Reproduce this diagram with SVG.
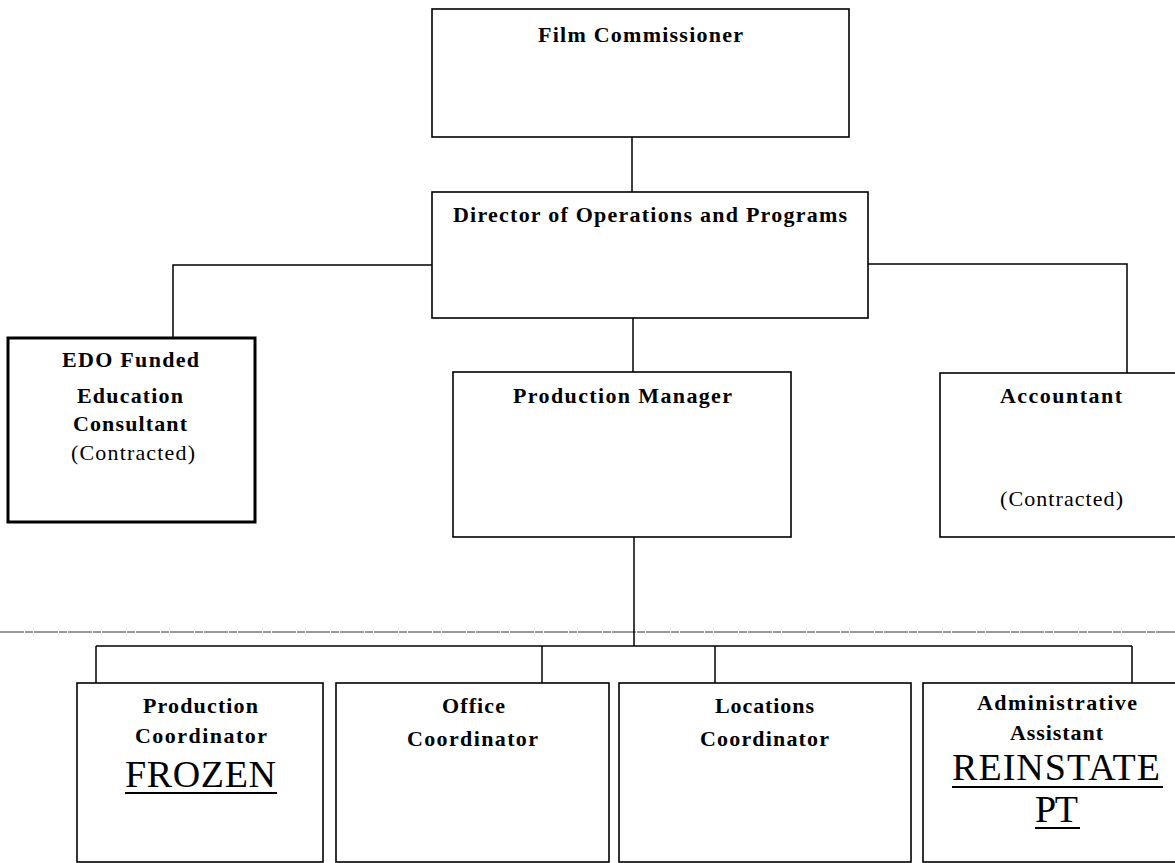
<svg xmlns="http://www.w3.org/2000/svg" width="1175" height="863" viewBox="0 0 1175 863">
<style>
.box{fill:#fff;stroke:#000;stroke-width:1.6}
.thick{stroke-width:3}
.ln{fill:none;stroke:#000;stroke-width:1.5}
.dash{fill:none;stroke:#333;stroke-width:1;stroke-dasharray:24 1 8 1}
.b{font-family:"Liberation Serif","Times New Roman",serif;font-weight:bold;font-size:22px;fill:#000;text-anchor:middle}
.r{font-family:"Liberation Serif","Times New Roman",serif;font-size:22px;fill:#000;text-anchor:middle}
.big{font-family:"Liberation Serif","Times New Roman",serif;font-size:38px;fill:#000;text-anchor:middle}
.ul{stroke:#000;stroke-width:2}
</style>
<rect width="1175" height="863" fill="#fff"/>
<g id="connectors">
<line class="dash" x1="0" y1="632" x2="1175" y2="632"/>
<line class="ln" x1="632" y1="137" x2="632" y2="192"/>
<polyline class="ln" points="432,265 173,265 173,338"/>
<polyline class="ln" points="868,264 1127,264 1127,373"/>
<line class="ln" x1="633" y1="318" x2="633" y2="372"/>
<line class="ln" x1="634" y1="537" x2="634" y2="646"/>
<line class="ln" x1="96" y1="646" x2="1132" y2="646"/>
<line class="ln" x1="96" y1="646" x2="96" y2="683"/>
<line class="ln" x1="542" y1="646" x2="542" y2="683"/>
<line class="ln" x1="715" y1="646" x2="715" y2="683"/>
<line class="ln" x1="1132" y1="646" x2="1132" y2="683"/>
</g>
<g id="film-commissioner">
<rect class="box" x="432" y="9" width="417" height="128"/>
<text class="b" x="640.5" y="42" textLength="205">Film Commissioner</text>
</g>
<g id="director">
<rect class="box" x="432" y="192" width="436" height="126"/>
<text class="b" x="650" y="222" textLength="394">Director of Operations and Programs</text>
</g>
<g id="edo-consultant">
<rect class="box thick" x="8" y="338" width="247" height="184"/>
<text class="b" x="130.5" y="367" textLength="137">EDO Funded</text>
<text class="b" x="130" y="403" textLength="106">Education</text>
<text class="b" x="130" y="431" textLength="114">Consultant</text>
<text class="r" x="133" y="460" textLength="124">(Contracted)</text>
</g>
<g id="production-manager">
<rect class="box" x="453" y="372" width="338" height="165"/>
<text class="b" x="622.5" y="403" textLength="219">Production Manager</text>
</g>
<g id="accountant">
<rect class="box" x="940" y="373" width="242" height="164"/>
<text class="b" x="1061" y="403" textLength="122">Accountant</text>
<text class="r" x="1061.5" y="506" textLength="123">(Contracted)</text>
</g>
<g id="production-coordinator">
<rect class="box" x="77" y="683" width="246" height="179"/>
<text class="b" x="200.5" y="713" textLength="115">Production</text>
<text class="b" x="201" y="743" textLength="132">Coordinator</text>
<text class="big" x="200.5" y="787" textLength="151">FROZEN</text>
<line class="ul" x1="125" y1="793" x2="277" y2="793"/>
</g>
<g id="office-coordinator">
<rect class="box" x="336" y="683" width="273" height="179"/>
<text class="b" x="473.5" y="713" textLength="63">Office</text>
<text class="b" x="472.5" y="746" textLength="131">Coordinator</text>
</g>
<g id="locations-coordinator">
<rect class="box" x="619" y="683" width="292" height="179"/>
<text class="b" x="764.5" y="713" textLength="99">Locations</text>
<text class="b" x="764.5" y="746" textLength="129">Coordinator</text>
</g>
<g id="administrative-assistant">
<rect class="box" x="923" y="683" width="267" height="179"/>
<text class="b" x="1057" y="710" textLength="160">Administrative</text>
<text class="b" x="1056.5" y="740" textLength="93">Assistant</text>
<text class="big" x="1056" y="780" textLength="208">REINSTATE</text>
<line class="ul" x1="952" y1="787" x2="1163" y2="787"/>
<text class="big" x="1056.5" y="822" textLength="43">PT</text>
<line class="ul" x1="1035" y1="828" x2="1080" y2="828"/>
</g>
</svg>
